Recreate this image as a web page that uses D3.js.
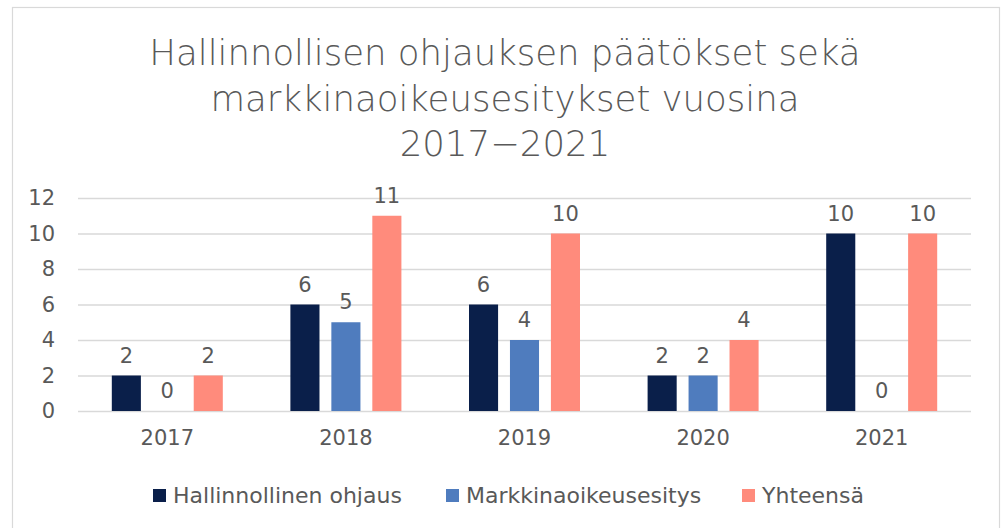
<!DOCTYPE html>
<html>
<head>
<meta charset="utf-8">
<script src="https://cdn.jsdelivr.net/npm/d3@7"></script>
<style>
  body { margin: 0; background: #fff; }
  text { font-family: "DejaVu Sans", sans-serif; fill: #595959; }
</style>
</head>
<body>
<div id="chart"></div>
<script>
// data
const years = ["2017", "2018", "2019", "2020", "2021"];
const seriesNames = ["Hallinnollinen ohjaus", "Markkinaoikeusesitys", "Yhteensä"];
const hallinnollinen = [2, 6, 6, 2, 10];
const markkina = [0, 5, 4, 2, 0];
const yhteensa = [2, 11, 10, 4, 10];
const yTicks = [0, 2, 4, 6, 8, 10, 12];
const titleLines = ["Hallinnollisen ohjauksen päätökset sekä", "markkinaoikeusesitykset vuosina", "2017−2021"];

const colors = ["#0a1f4a", "#4f7cbe", "#ff8b7c"];
const allSeries = [hallinnollinen, markkina, yhteensa];

const width = 1007, height = 528;
const plot = {left: 78, right: 971, top: 198, bottom: 411};
const labelSize = "21px";

const svg = d3.select("#chart").append("svg")
    .attr("width", width)
    .attr("height", height);

// chart border
svg.append("rect")
    .attr("x", 12.5).attr("y", 7.5)
    .attr("width", 987).attr("height", 540)
    .attr("fill", "#fff")
    .attr("stroke", "#d9d9d9")
    .attr("stroke-width", 1.2);

// title
svg.selectAll("text.title")
    .data(titleLines)
    .join("text")
    .attr("class", "title")
    .attr("x", 505)
    .attr("y", (d, i) => 65 + i * 45.5)
    .attr("text-anchor", "middle")
    .style("font-size", "35.5px")
    .style("font-weight", 200)
    .text(d => d);

// scales
const xScale = d3.scaleBand()
    .domain(years)
    .range([plot.left, plot.right]);

const xInner = d3.scaleBand()
    .domain(d3.range(3))
    .range([0, 111])
    .paddingInner(0.29);

const yScale = d3.scaleLinear()
    .domain([0, 12])
    .range([plot.bottom, plot.top]);

// gridlines
svg.append("g")
    .attr("transform", `translate(${plot.left},0)`)
    .call(d3.axisLeft(yScale).tickValues(yTicks).tickSize(-(plot.right - plot.left)).tickFormat(""))
    .call(g => g.select(".domain").remove())
    .call(g => g.selectAll("line").attr("stroke", "#d9d9d9").attr("stroke-width", 1.5));

// y labels
svg.append("g")
    .attr("transform", `translate(${plot.left},0)`)
    .call(d3.axisLeft(yScale).tickValues(yTicks).tickSize(0).tickPadding(23))
    .call(g => g.select(".domain").remove())
    .call(g => g.selectAll("text").style("font-size", labelSize).style("font-family", "'DejaVu Sans'").attr("fill", "#595959"));

// x labels
svg.append("g")
    .attr("transform", `translate(0,${plot.bottom})`)
    .call(d3.axisBottom(xScale).tickSize(0).tickPadding(19))
    .call(g => g.select(".domain").remove())
    .call(g => g.selectAll("text").style("font-size", labelSize).style("font-family", "'DejaVu Sans'").attr("fill", "#595959"));

// bars
const groupOffset = xScale.bandwidth() / 2 - 111 / 2;
const barData = [];
years.forEach((y, i) => {
    allSeries.forEach((s, j) => barData.push({year: y, s: j, value: s[i]}));
});

svg.selectAll("rect.bar")
    .data(barData)
    .join("rect")
    .attr("class", "bar")
    .attr("x", d => xScale(d.year) + groupOffset + xInner(d.s))
    .attr("y", d => yScale(d.value))
    .attr("width", xInner.bandwidth())
    .attr("height", d => yScale(0) - yScale(d.value))
    .attr("fill", d => colors[d.s]);

// value labels
svg.selectAll("text.value")
    .data(barData)
    .join("text")
    .attr("class", "value")
    .attr("x", d => xScale(d.year) + groupOffset + xInner(d.s) + xInner.bandwidth() / 2)
    .attr("y", d => yScale(d.value) - 13)
    .attr("text-anchor", "middle")
    .style("font-size", labelSize)
    .text(d => d.value);

// legend
const legendX = [153, 446, 742];
const legend = svg.selectAll("g.legend")
    .data(seriesNames)
    .join("g")
    .attr("class", "legend")
    .attr("transform", (d, i) => `translate(${legendX[i]},489)`);

legend.append("rect")
    .attr("width", 13).attr("height", 13)
    .attr("fill", (d, i) => colors[i]);

legend.append("text")
    .attr("x", 20)
    .attr("y", 14)
    .style("font-size", "22px")
    .text(d => d);
</script>
</body>
</html>
